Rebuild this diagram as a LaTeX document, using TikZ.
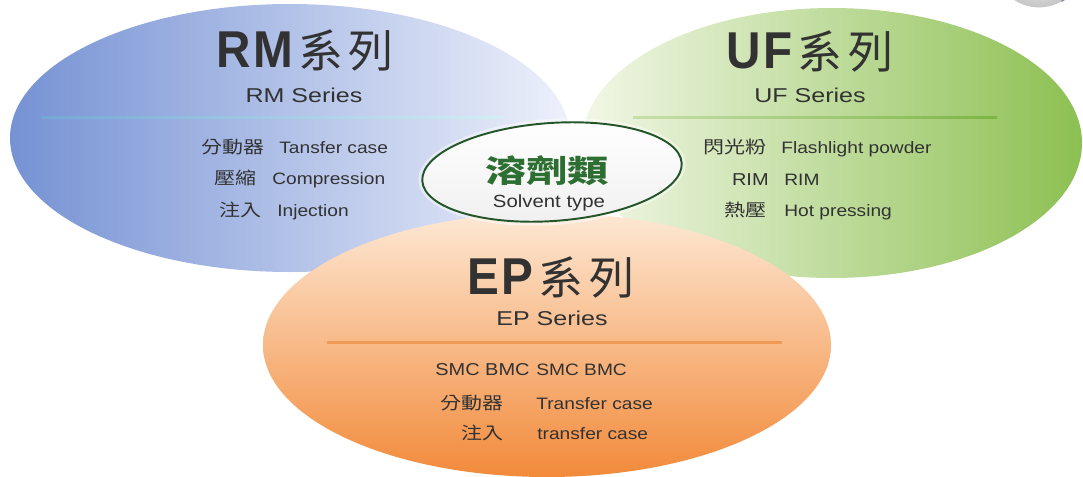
\documentclass[tikz,border=0pt]{standalone}
\usepackage{fontspec}
\setmainfont{Liberation Sans}
\newfontfamily\titlefont[FakeStretch=0.92]{Liberation Sans}
\newfontfamily\itemfont[FakeStretch=1.16]{Liberation Sans}
\newfontfamily\seriesfont[FakeStretch=1.25]{Liberation Sans}
\newfontfamily\cjk{Noto Sans CJK TC}
\newfontfamily\cjkitem[FakeStretch=1.22]{Noto Sans CJK TC}
\newfontfamily\cjkhead[FakeStretch=1.33]{Noto Sans CJK TC}
\definecolor{rmblue}{RGB}{118,146,212}
\definecolor{rmpale}{RGB}{238,241,251}
\definecolor{rmline}{RGB}{110,200,218}
\definecolor{ufgreen}{RGB}{140,192,82}
\definecolor{ufpale}{RGB}{242,247,230}
\definecolor{ufline}{RGB}{122,178,66}
\definecolor{eporange}{RGB}{242,138,58}
\definecolor{eppale}{RGB}{253,232,212}
\definecolor{epline}{RGB}{236,120,30}
\definecolor{txtgray}{RGB}{50,50,50}
\definecolor{solgreen}{RGB}{45,110,50}
\definecolor{solline}{RGB}{35,85,40}
\definecolor{ballrim}{RGB}{80,90,120}
\newcommand\serieshead[1]{{\titlefont\bfseries #1}\hspace{3pt}{\cjk\mdseries\fontsize{25.6}{30}\selectfont 系\hspace{3pt}列}}

\begin{document}
\begin{tikzpicture}[x=0.02cm,y=0.02cm,
    title/.style={text=txtgray,inner sep=0pt,font=\fontsize{29.5}{32}\selectfont},
    series/.style={text=txtgray,inner sep=0pt,font=\seriesfont\fontsize{11.4}{13}\selectfont},
    zh/.style={text=txtgray,inner sep=0pt,anchor=mid east,font=\cjkitem\fontsize{9.8}{12}\selectfont},
    en/.style={text=txtgray,inner sep=0pt,anchor=mid west,font=\itemfont\fontsize{9.4}{12}\selectfont}]
    \useasboundingbox (0,0) rectangle (1083,-477);
    \fill[white] (0,0) rectangle (1083,-477);
    \clip (0,0) rectangle (1083,-477);

    % the three series
    \shade[left color=rmblue,right color=rmpale] (290,-138) ellipse [x radius=280,y radius=134];
    \shade[left color=ufpale,right color=ufgreen] (832,-143) ellipse [x radius=250,y radius=135];
    \shade[top color=eppale,bottom color=eporange] (547,-345) ellipse [x radius=284,y radius=132];
    \shade[inner color=white,outer color=gray!45] (1039,37.6) circle (45);
    \draw[ballrim!70,line width=0.8pt] (1039,37.6) ++(-60:45) arc (-60:-20:45);

    % divider lines
    \shade[left color=rmline!40!rmblue,middle color=rmline,right color=rmline!30!white] (41,-116) rectangle (503,-118.5);
    \shade[left color=ufline!35!ufpale,middle color=ufline,right color=ufline!80!ufgreen] (633,-116) rectangle (997,-118.5);
    \fill[epline!75,path fading=none] (327,-340.5) rectangle (782,-343.5);

    % RM
    \node[title] (rmtitle) at (305,-50) {\serieshead{R\kern1.2pt M}};
    \node[series] (rmseries) at (304,-95) {RM Series};
    \foreach \zh/\en/\y/\xa/\xb [count=\i] in {分動器/Tansfer case/149/265/279,壓縮/Compression/180/257/272,注入/Injection/212/262/277}{
      \node[zh] (rmzh\i) at (\xa,-\y) {\zh};
      \node[en] (rmen\i) at (\xb,-\y) {\en};
    }

    % UF
    \node[title] (uftitle) at (810,-51) {\serieshead{U\kern1.2pt F}};
    \node[series] (ufseries) at (810,-95) {UF Series};
    \foreach \zh/\en/\y/\xa/\xb [count=\i] in {閃光粉/Flashlight powder/149/767/781,{\itemfont RIM}/RIM/181/769/784,熱壓/Hot pressing/212/767/784}{
      \node[zh] (ufzh\i) at (\xa,-\y) {\zh};
      \node[en] (ufen\i) at (\xb,-\y) {\en};
    }

    % EP
    \node[title] (eptitle) at (551,-277) {\serieshead{E\kern1.2pt P}};
    \node[series] (epseries) at (552,-318) {EP Series};
    \foreach \zh/\en/\y/\xa/\xb [count=\i] in {{\itemfont SMC BMC}/SMC BMC/371/530/536,分動器/Transfer case/405/504/536,注入/transfer case/435/504/537}{
      \node[zh] (epzh\i) at (\xa,-\y) {\zh};
      \node[en] (epen\i) at (\xb,-\y) {\en};
    }

    % solvent type
    \coordinate (sol) at (552,-172);
    \fill[white,opacity=.45,rotate around={4:(sol)}] (sol) ellipse [x radius=134,y radius=53];
    \draw[solline,line width=1.1pt,top color=white,bottom color=gray!12,rotate around={4:(sol)}] (sol) ellipse [x radius=130,y radius=49];
    \node[text=solgreen,inner sep=0pt,font=\cjkhead\bfseries\fontsize{17.6}{20}\selectfont] (soltitle) at (547,-171) {溶劑類};
    \node[text=txtgray,inner sep=0pt,anchor=mid,font=\itemfont\fontsize{10}{12}\selectfont] (solsub) at (549,-202.5) {Solvent type};
\end{tikzpicture}
\end{document}
